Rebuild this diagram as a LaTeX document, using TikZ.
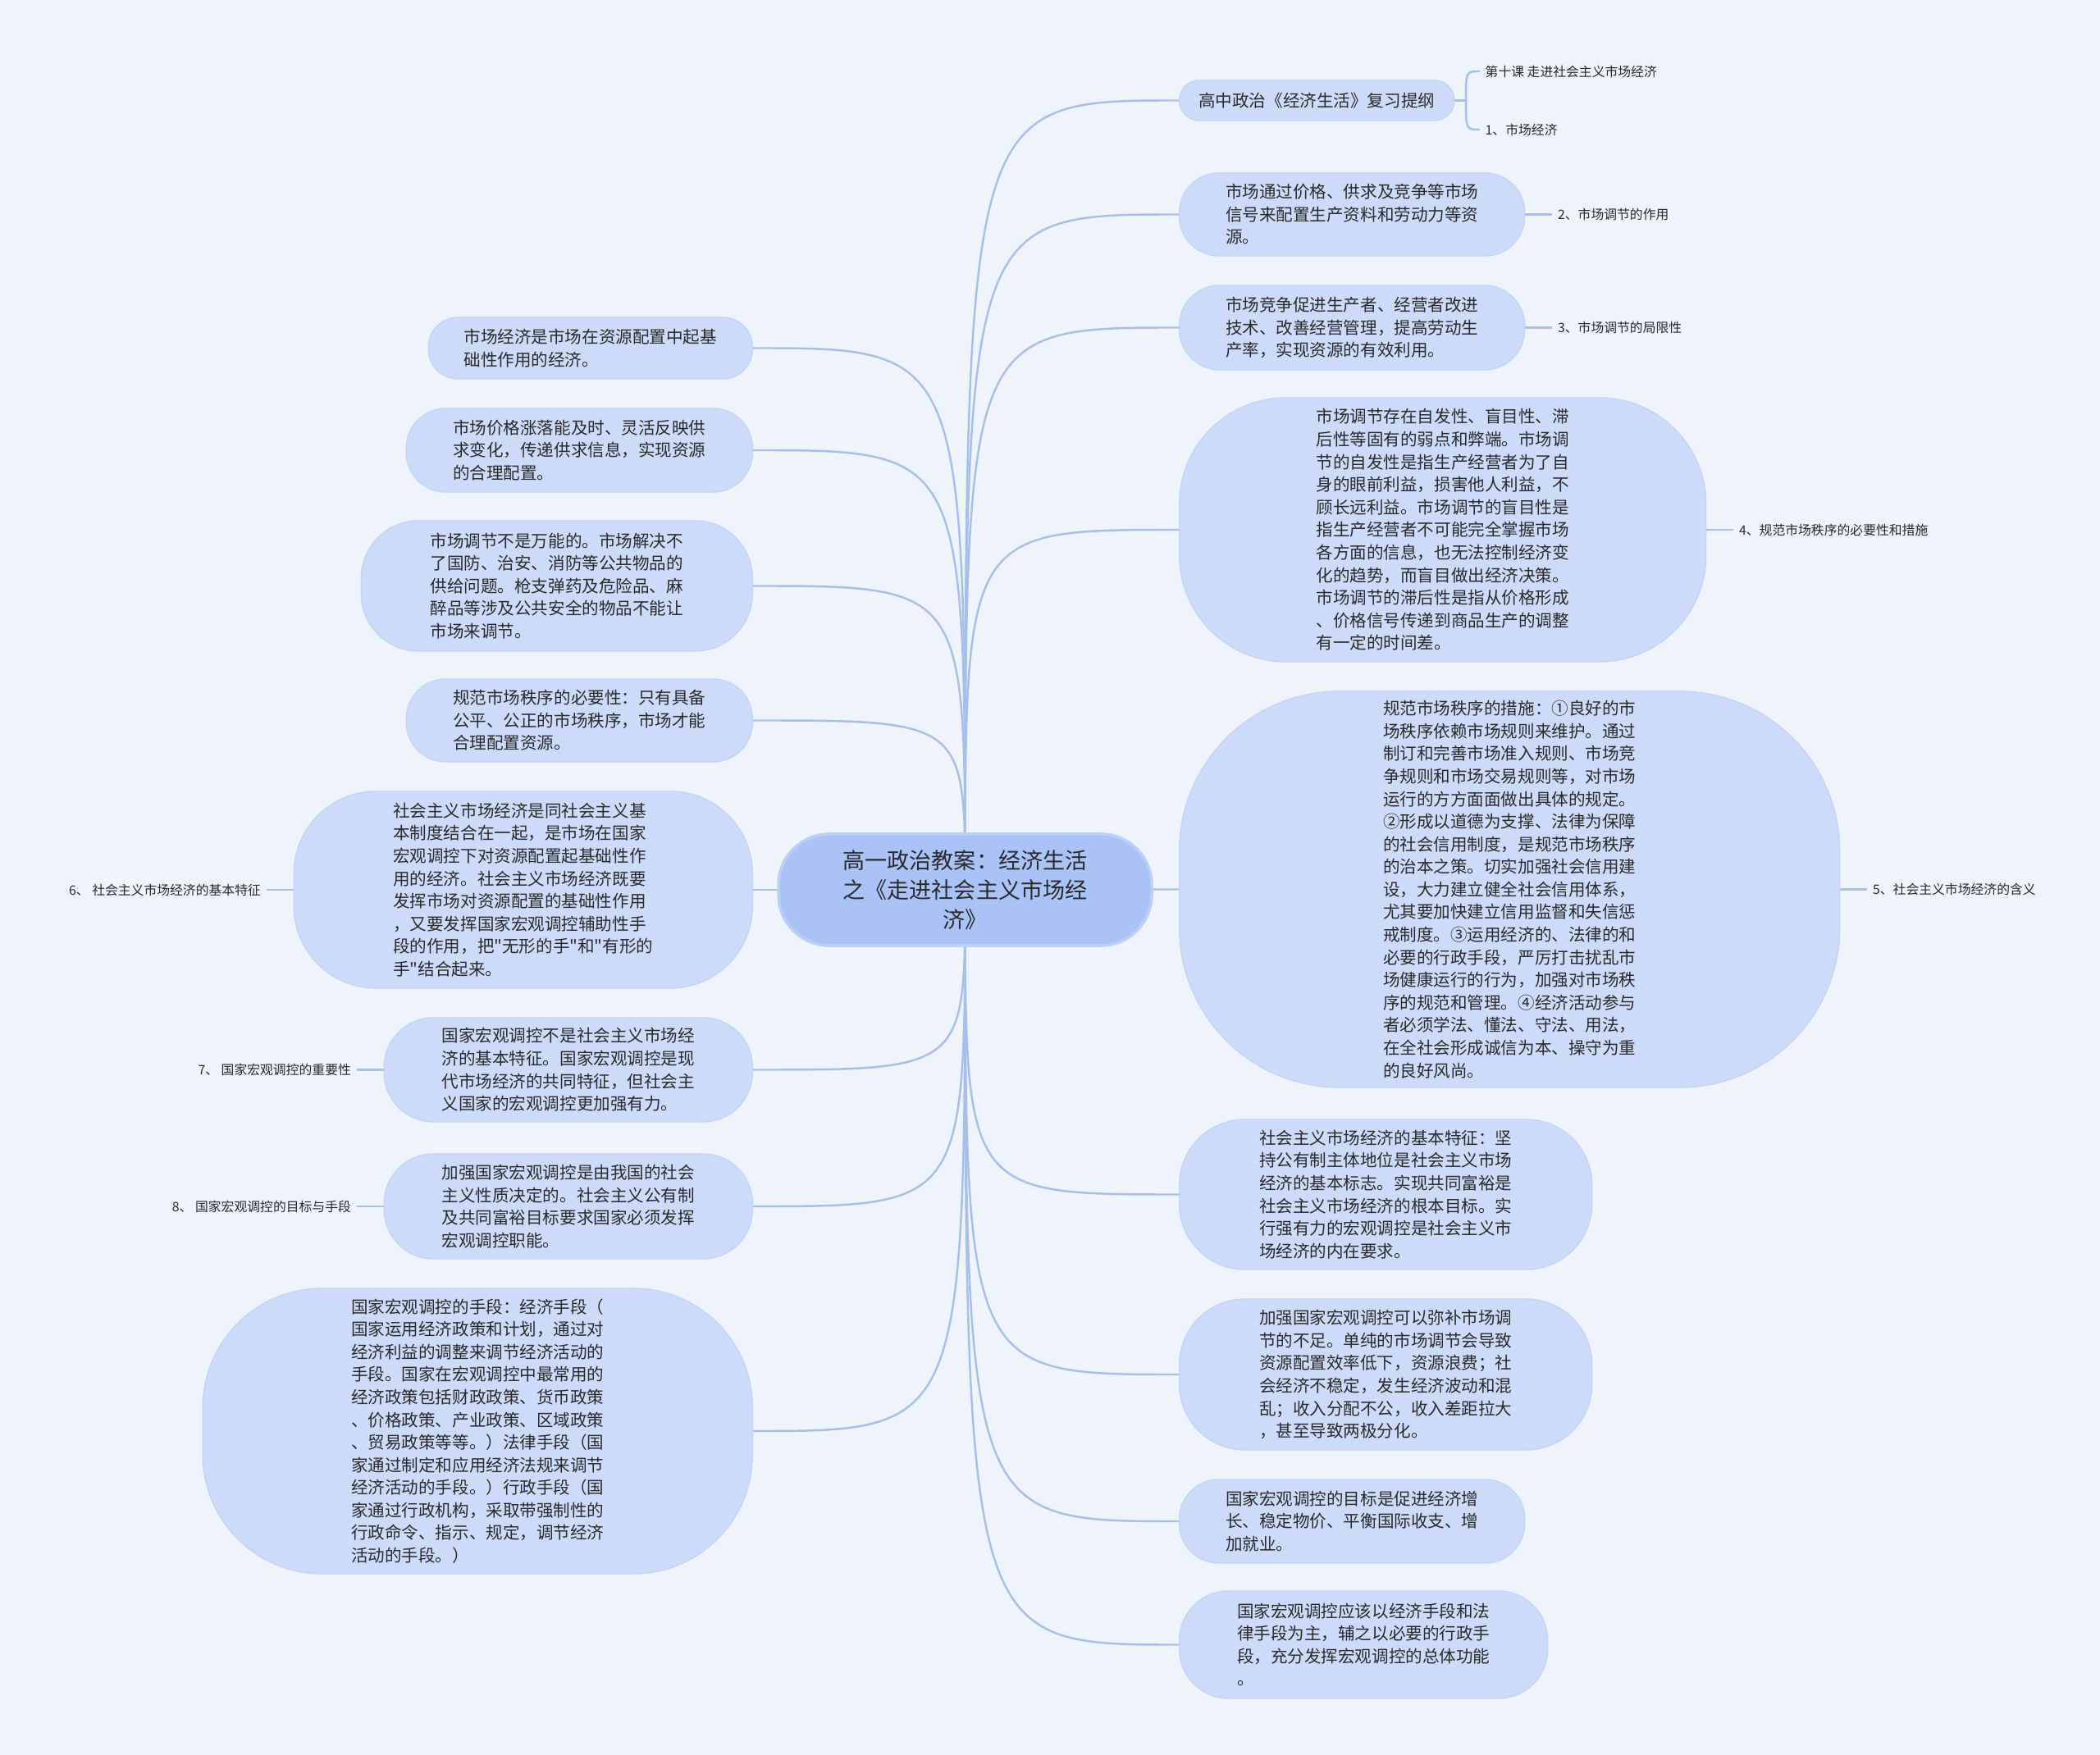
\documentclass[tikz,border=0pt]{standalone}
\usepackage{fontspec}
\newfontfamily\cjk{Noto Sans CJK SC}
\usetikzlibrary{positioning,backgrounds}
\definecolor{PageBg}{HTML}{EEF3FC}
\definecolor{LeafFill}{HTML}{CCDBF9}
\definecolor{LeafLine}{HTML}{C3D4F8}
\definecolor{RootFill}{HTML}{A9C3F6}
\definecolor{RootLine}{HTML}{BBCFF7}
\definecolor{Branch}{HTML}{A6BFEC}
\definecolor{Ink}{HTML}{2A2A2A}

\begin{document}
\begin{tikzpicture}[
  leaf/.style={fill=LeafFill, draw=LeafLine, line width=0.4pt, align=left,
               inner sep=0pt, font=\cjk\fontsize{5.85pt}{7.85pt}\selectfont\color{Ink}},
  topic/.style={fill=RootFill, draw=RootLine, line width=1pt, align=center,
               inner sep=0pt, rounded corners=0.62cm, minimum width=4.55cm,
               minimum height=1.36cm, font=\cjk\fontsize{7.7pt}{10.2pt}\selectfont\color{Ink}},
  tag/.style={inner sep=0.06cm, font=\cjk\fontsize{4.5pt}{6pt}\selectfont\color{Ink}},
  link/.style={draw=Branch, line width=0.7pt}]
  \useasboundingbox (0,0) rectangle (25.6,-21.4);

  % centre topic
  \node[topic] (root) at (11.765,-10.85) {高一政治教案：经济生活\\之《走进社会主义市场经\\济》};

  % right branches
  \node[leaf, anchor=west, align=center, minimum width=3.35cm, minimum height=0.49cm,
        rounded corners=0.24cm] (r1) at (14.37,-1.225) {高中政治《经济生活》复习提纲};
  \node[tag, anchor=west] (k1) at (18.04,-0.87) {第十课 走进社会主义市场经济};
  \node[tag, anchor=west] (k2) at (18.04,-1.58) {1、市场经济};
  \coordinate (r1j) at (17.87,-1.225);

  \node[leaf, anchor=west, minimum width=4.21cm, minimum height=1.01cm,
        rounded corners=0.48cm] (r2) at (14.37,-2.615)
    {市场通过价格、供求及竞争等市场\\信号来配置生产资料和劳动力等资\\源。};
  \node[tag, right=0.33cm of r2] (t2) {2、市场调节的作用};

  \node[leaf, anchor=west, minimum width=4.21cm, minimum height=1.03cm,
        rounded corners=0.49cm] (r3) at (14.37,-3.995)
    {市场竞争促进生产者、经营者改进\\技术、改善经营管理，提高劳动生\\产率，实现资源的有效利用。};
  \node[tag, right=0.33cm of r3] (t3) {3、市场调节的局限性};

  \node[leaf, anchor=west, minimum width=6.42cm, minimum height=3.22cm,
        rounded corners=1.3cm] (r4) at (14.37,-6.46)
    {市场调节存在自发性、盲目性、滞\\后性等固有的弱点和弊端。市场调\\节的自发性是指生产经营者为了自\\身的眼前利益，损害他人利益，不\\顾长远利益。市场调节的盲目性是\\指生产经营者不可能完全掌握市场\\各方面的信息，也无法控制经济变\\化的趋势，而盲目做出经济决策。\\市场调节的滞后性是指从价格形成\\、价格信号传递到商品生产的调整\\有一定的时间差。};
  \node[tag, right=0.33cm of r4] (t4) {4、规范市场秩序的必要性和措施};

  \node[leaf, anchor=west, minimum width=8.05cm, minimum height=4.83cm,
        rounded corners=1.95cm] (r5) at (14.37,-10.845)
    {规范市场秩序的措施：①良好的市\\场秩序依赖市场规则来维护。通过\\制订和完善市场准入规则、市场竞\\争规则和市场交易规则等，对市场\\运行的方方面面做出具体的规定。\\②形成以道德为支撑、法律为保障\\的社会信用制度，是规范市场秩序\\的治本之策。切实加强社会信用建\\设，大力建立健全社会信用体系，\\尤其要加快建立信用监督和失信惩\\戒制度。③运用经济的、法律的和\\必要的行政手段，严厉打击扰乱市\\场健康运行的行为，加强对市场秩\\序的规范和管理。④经济活动参与\\者必须学法、懂法、守法、用法，\\在全社会形成诚信为本、操守为重\\的良好风尚。};
  \node[tag, right=0.33cm of r5] (t5) {5、社会主义市场经济的含义};

  \node[leaf, anchor=west, minimum width=5.03cm, minimum height=1.83cm,
        rounded corners=0.8cm] (r6) at (14.37,-14.565)
    {社会主义市场经济的基本特征：坚\\持公有制主体地位是社会主义市场\\经济的基本标志。实现共同富裕是\\社会主义市场经济的根本目标。实\\行强有力的宏观调控是社会主义市\\场经济的内在要求。};

  \node[leaf, anchor=west, minimum width=5.03cm, minimum height=1.84cm,
        rounded corners=0.8cm] (r7) at (14.37,-16.76)
    {加强国家宏观调控可以弥补市场调\\节的不足。单纯的市场调节会导致\\资源配置效率低下，资源浪费；社\\会经济不稳定，发生经济波动和混\\乱；收入分配不公，收入差距拉大\\，甚至导致两极分化。};

  \node[leaf, anchor=west, minimum width=4.21cm, minimum height=1.02cm,
        rounded corners=0.48cm] (r8) at (14.37,-18.55)
    {国家宏观调控的目标是促进经济增\\长、稳定物价、平衡国际收支、增\\加就业。};

  \node[leaf, anchor=west, minimum width=4.49cm, minimum height=1.31cm,
        rounded corners=0.6cm] (r9) at (14.37,-20.055)
    {国家宏观调控应该以经济手段和法\\律手段为主，辅之以必要的行政手\\段，充分发挥宏观调控的总体功能\\。};

  % left branches
  \node[leaf, anchor=east, minimum width=3.95cm, minimum height=0.75cm,
        rounded corners=0.36cm] (l1) at (9.18,-4.245)
    {市场经济是市场在资源配置中起基\\础性作用的经济。};

  \node[leaf, anchor=east, minimum width=4.22cm, minimum height=1.02cm,
        rounded corners=0.48cm] (l2) at (9.18,-5.49)
    {市场价格涨落能及时、灵活反映供\\求变化，传递供求信息，实现资源\\的合理配置。};

  \node[leaf, anchor=east, minimum width=4.77cm, minimum height=1.59cm,
        rounded corners=0.7cm] (l3) at (9.18,-7.145)
    {市场调节不是万能的。市场解决不\\了国防、治安、消防等公共物品的\\供给问题。枪支弹药及危险品、麻\\醉品等涉及公共安全的物品不能让\\市场来调节。};

  \node[leaf, anchor=east, minimum width=4.22cm, minimum height=1.01cm,
        rounded corners=0.48cm] (l4) at (9.18,-8.785)
    {规范市场秩序的必要性：只有具备\\公平、公正的市场秩序，市场才能\\合理配置资源。};

  \node[leaf, anchor=east, minimum width=5.59cm, minimum height=2.40cm,
        rounded corners=1.0cm] (l5) at (9.18,-10.85)
    {社会主义市场经济是同社会主义基\\本制度结合在一起，是市场在国家\\宏观调控下对资源配置起基础性作\\用的经济。社会主义市场经济既要\\发挥市场对资源配置的基础性作用\\，又要发挥国家宏观调控辅助性手\\段的作用，把"无形的手"和"有形的\\手"结合起来。};
  \node[tag, left=0.33cm of l5] (t6) {6、 社会主义市场经济的基本特征};

  \node[leaf, anchor=east, minimum width=4.49cm, minimum height=1.27cm,
        rounded corners=0.6cm] (l6) at (9.18,-13.045)
    {国家宏观调控不是社会主义市场经\\济的基本特征。国家宏观调控是现\\代市场经济的共同特征，但社会主\\义国家的宏观调控更加强有力。};
  \node[tag, left=0.33cm of l6] (t7) {7、 国家宏观调控的重要性};

  \node[leaf, anchor=east, minimum width=4.49cm, minimum height=1.28cm,
        rounded corners=0.6cm] (l7) at (9.18,-14.71)
    {加强国家宏观调控是由我国的社会\\主义性质决定的。社会主义公有制\\及共同富裕目标要求国家必须发挥\\宏观调控职能。};
  \node[tag, left=0.33cm of l7] (t8) {8、 国家宏观调控的目标与手段};

  \node[leaf, anchor=east, minimum width=6.70cm, minimum height=3.48cm,
        rounded corners=1.45cm] (l8) at (9.18,-17.45)
    {国家宏观调控的手段：经济手段（\\国家运用经济政策和计划，通过对\\经济利益的调整来调节经济活动的\\手段。国家在宏观调控中最常用的\\经济政策包括财政政策、货币政策\\、价格政策、产业政策、区域政策\\、贸易政策等等。）法律手段（国\\家通过制定和应用经济法规来调节\\经济活动的手段。）行政手段（国\\家通过行政机构，采取带强制性的\\行政命令、指示、规定，调节经济\\活动的手段。）};

  % connectors
  \begin{scope}[on background layer]
    \fill[PageBg] (0,0) rectangle (25.6,-21.4);
    \foreach \n in {r1,r2,r3,r4,r5,r6,r7,r8,r9}
      \draw[link] (root.center) .. controls (root.center |- \n.west) .. (\n.west);
    \foreach \n in {l1,l2,l3,l4,l5,l6,l7,l8}
      \draw[link] (root.center) .. controls (root.center |- \n.east) .. (\n.east);
    \draw[link] (r1) -- (r1j);
    \draw[link] (r1j) .. controls (r1j |- k1.west) .. (k1.west);
    \draw[link] (r1j) .. controls (r1j |- k2.west) .. (k2.west);
    \draw[link] (r2) -- (t2);
    \draw[link] (r3) -- (t3);
    \draw[link] (r4) -- (t4);
    \draw[link] (r5) -- (t5);
    \draw[link] (l5) -- (t6);
    \draw[link] (l6) -- (t7);
    \draw[link] (l7) -- (t8);
  \end{scope}
\end{tikzpicture}
\end{document}
